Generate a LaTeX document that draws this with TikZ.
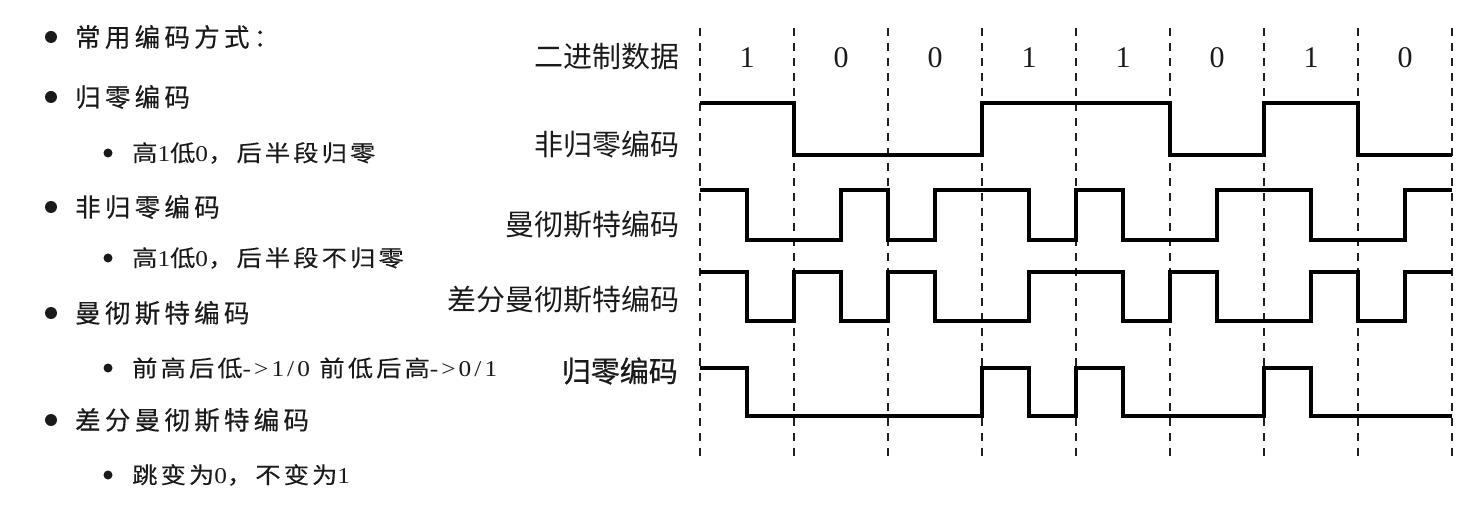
\documentclass[tikz,border=0pt]{standalone}
\usepackage{fontspec}
\setmainfont{Liberation Serif}
\newfontfamily\cjkfont{Noto Sans CJK SC}
\newfontfamily\cjkheavy[FakeBold=0.8]{Noto Sans CJK SC}
\newfontfamily\itemfont[LetterSpace=16.7, FakeBold=0.3]{Noto Sans CJK SC}
\newfontfamily\subfont[LetterSpace=13.6, FakeStretch=1.12, FakeBold=0.2]{Noto Sans CJK SC}
\newfontfamily\sublatin[LetterSpace=13.6, FakeStretch=1.12]{Liberation Serif}
\usetikzlibrary{calc}
\definecolor{waveC}{HTML}{000000}
\definecolor{gridC}{HTML}{1F1F1F}
\definecolor{labelC}{HTML}{1A1A1A}
\def\lwWave{3.2pt}
\def\lwGrid{1.8pt}
\def\gridX{700}
\def\bitW{94}
\def\halfW{47}
\def\gridTopY{28}
\def\gridBotY{457}
\def\bitY{58}
\def\nrzHi{103}
\def\nrzLo{155}
\def\manHi{190}
\def\manLo{240}
\def\dmanHi{272}
\def\dmanLo{321}
\def\rzHi{368}
\def\rzLo{416}
\def\itemX{75}
\def\subX{132}
\def\dotX{51}
\def\subDotX{108}

\begin{document}
\begin{tikzpicture}[x=1pt, y=-1pt, line join=miter,
    wave/.style={waveC, line width=\lwWave},
    gridline/.style={gridC, line width=\lwGrid, dash pattern=on 8pt off 7pt},
    rowlabel/.style={labelC, anchor=east, inner sep=0pt, font=\cjkfont\fontsize{29}{34}\selectfont},
    bitlabel/.style={labelC, inner sep=0pt, font=\fontsize{30}{34}\selectfont},
    itemtext/.style={labelC, anchor=west, inner sep=0pt, font=\itemfont\fontsize{25.5}{30}\selectfont},
    subtext/.style={labelC, anchor=west, inner sep=0pt, font=\subfont\fontsize{22.6}{26}\selectfont}]

  \useasboundingbox (0,0) rectangle (1461,521);

  % Bullet list (left)
  \node[itemtext] (itemMain) at (\itemX, 37) {常用编码方式：};
  \node[itemtext] (itemRZ)   at (\itemX, 97) {归零编码};
  \node[subtext]  (subRZ)    at (\subX, 153) {高{\sublatin 1}低{\sublatin 0}，后半段归零};
  \node[itemtext] (itemNRZ)  at (\itemX, 207) {非归零编码};
  \node[subtext]  (subNRZ)   at (\subX, 258) {高{\sublatin 1}低{\sublatin 0}，后半段不归零};
  \node[itemtext] (itemMan)  at (\itemX, 313) {曼彻斯特编码};
  \node[subtext]  (subMan)   at (\subX, 368) {前高后低{\sublatin ->1/0 }前低后高{\sublatin ->0/1}};
  \node[itemtext] (itemDMan) at (\itemX, 420) {差分曼彻斯特编码};
  \node[subtext]  (subDMan)  at (\subX, 475) {跳变为{\sublatin 0}，不变为{\sublatin 1}};

  \foreach \y in {37, 97, 207, 313, 420}
    \fill[labelC] (\dotX, \y) circle (6pt);
  \foreach \y in {153, 258, 368, 475}
    \fill[labelC] (\subDotX, \y) circle (4.5pt);

  % Row labels
  \node[rowlabel] (lblBin)  at (680, 57)  {二进制数据};
  \node[rowlabel] (lblNRZ)  at (680, 145) {非归零编码};
  \node[rowlabel] (lblMan)  at (680, 225) {曼彻斯特编码};
  \node[rowlabel] (lblDMan) at (680, 300) {差分曼彻斯特编码};
  \node[rowlabel, font=\cjkheavy\fontsize{29}{34}\selectfont] (lblRZ) at (678, 371) {归零编码};

  % Bit cells
  \foreach \i in {0,...,8}
    \draw[gridline] ({\gridX+\i*\bitW}, \gridTopY) -- ({\gridX+\i*\bitW}, \gridBotY);
  \foreach \b [count=\i from 0] in {1,0,0,1,1,0,1,0}
    \node[bitlabel] (bit\i) at ({\gridX+\halfW+\i*\bitW}, \bitY) {\b};

  % Waveforms (one level per half bit)
  \draw[wave] (\gridX, \nrzHi)
    \foreach \lv [count=\k from 0] in {1,1,0,0,0,0,1,1,1,1,0,0,1,1,0,0}
      { -- ({\gridX+\k*\halfW}, {\nrzLo-\lv*(\nrzLo-\nrzHi)}) -- ({\gridX+(\k+1)*\halfW}, {\nrzLo-\lv*(\nrzLo-\nrzHi)}) };
  \draw[wave] (\gridX, \manHi)
    \foreach \lv [count=\k from 0] in {1,0,0,1,0,1,1,0,1,0,0,1,1,0,0,1}
      { -- ({\gridX+\k*\halfW}, {\manLo-\lv*(\manLo-\manHi)}) -- ({\gridX+(\k+1)*\halfW}, {\manLo-\lv*(\manLo-\manHi)}) };
  \draw[wave] (\gridX, \dmanHi)
    \foreach \lv [count=\k from 0] in {1,0,1,0,1,0,0,1,1,0,1,0,0,1,0,1}
      { -- ({\gridX+\k*\halfW}, {\dmanLo-\lv*(\dmanLo-\dmanHi)}) -- ({\gridX+(\k+1)*\halfW}, {\dmanLo-\lv*(\dmanLo-\dmanHi)}) };
  \draw[wave] (\gridX, \rzHi)
    \foreach \lv [count=\k from 0] in {1,0,0,0,0,0,1,0,1,0,0,0,1,0,0,0}
      { -- ({\gridX+\k*\halfW}, {\rzLo-\lv*(\rzLo-\rzHi)}) -- ({\gridX+(\k+1)*\halfW}, {\rzLo-\lv*(\rzLo-\rzHi)}) };
\end{tikzpicture}
\end{document}
